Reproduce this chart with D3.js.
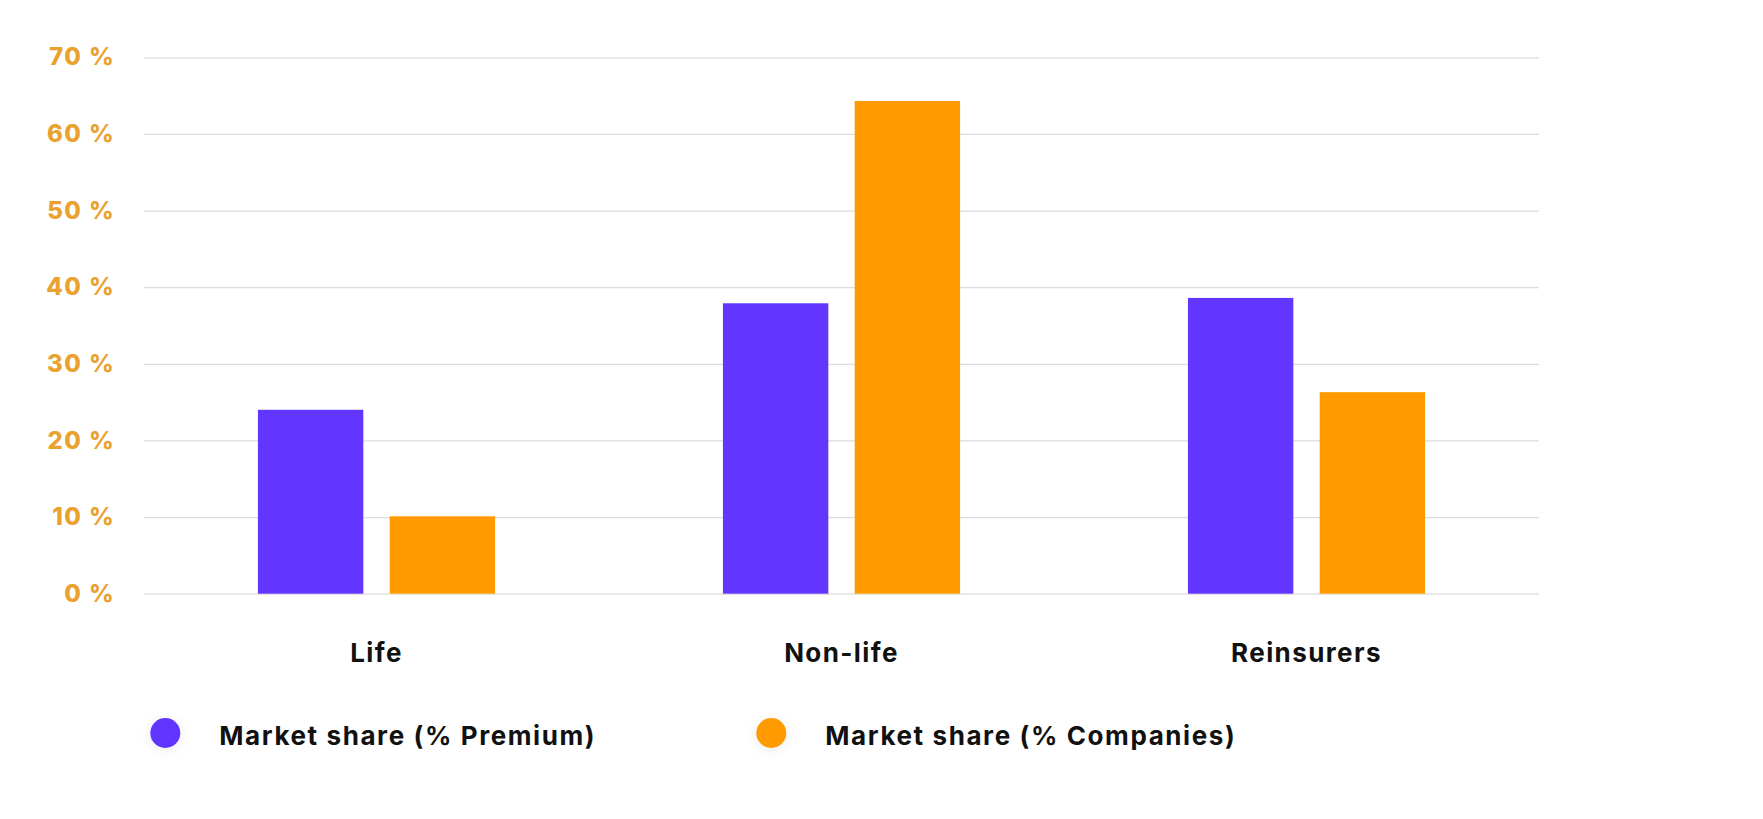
<!DOCTYPE html>
<html>
<head>
<meta charset="utf-8">
<script src="https://cdn.jsdelivr.net/npm/d3@7"></script>
<style>
  html, body { margin: 0; padding: 0; background: #ffffff; }
  svg { display: block; }
</style>
</head>
<body>
<svg id="chart" width="1763" height="819"></svg>
<script>
const categories = ["Life", "Non-life", "Reinsurers"];
const seriesNames = ["Market share (% Premium)", "Market share (% Companies)"];
const premiumValues = [24.0, 37.9, 38.6];
const companiesValues = [10.1, 64.3, 26.3];
const yTicks = [0, 10, 20, 30, 40, 50, 60, 70];
const yTickLabels = ["0 %", "10 %", "20 %", "30 %", "40 %", "50 %", "60 %", "70 %"];
const seriesColors = ["#6236ff", "#ff9b00"];

const svg = d3.select("#chart");
const plotLeft = 144, plotRight = 1539, plotTop = 57.3, plotBottom = 593.7;
const font = "Inter, 'Open Sans', sans-serif";

const x0 = d3.scaleBand().domain(categories).range([plotLeft, plotRight])
  .paddingInner(0.49).paddingOuter(0.245);
const x1 = d3.scaleBand().domain(seriesNames).range([0, x0.bandwidth()])
  .paddingInner(0.2).paddingOuter(0);
const y = d3.scaleLinear().domain([0, 70]).range([plotBottom, plotTop]);

// grid lines + y labels
const yAxis = d3.axisLeft(y).tickValues(yTicks)
  .tickSize(-(plotRight - plotLeft)).tickPadding(29)
  .tickFormat((d, i) => yTickLabels[i]);
const gy = svg.append("g").attr("transform", `translate(${plotLeft},0)`).call(yAxis);
gy.select(".domain").remove();
gy.selectAll(".tick line").attr("stroke", "#dcdcdc").attr("stroke-width", 1.3);
gy.selectAll(".tick text")
  .attr("fill", "#e9a230")
  .style("font-family", font)
  .style("font-weight", 800)
  .style("font-size", "24px")
  .style("letter-spacing", "1.4px");

// bars
const data = categories.map((c, i) => ({ cat: c, vals: [premiumValues[i], companiesValues[i]] }));
const groups = svg.append("g").selectAll("g").data(data).join("g")
  .attr("transform", d => `translate(${x0(d.cat)},0)`);
groups.selectAll("rect")
  .data(d => d.vals.map((v, j) => ({ name: seriesNames[j], v, j })))
  .join("rect")
  .attr("x", d => x1(d.name))
  .attr("width", x1.bandwidth())
  .attr("y", d => y(d.v))
  .attr("height", d => y(0) - y(d.v))
  .attr("fill", d => seriesColors[d.j]);

// x labels
const xAxis = d3.axisBottom(x0).tickSize(0).tickPadding(0);
const gx = svg.append("g").attr("transform", `translate(0,${plotBottom})`).call(xAxis);
gx.select(".domain").remove();
gx.selectAll(".tick text")
  .attr("y", 59)
  .attr("dy", "0.35em")
  .attr("fill", "#111")
  .style("font-family", font)
  .style("font-weight", 700)
  .style("font-size", "26px")
  .style("letter-spacing", "1.4px");

// legend
const defs = svg.append("defs");
const filt = defs.append("filter").attr("id", "sh").attr("x", "-100%").attr("y", "-100%")
  .attr("width", "300%").attr("height", "300%");
filt.append("feDropShadow").attr("dx", 0).attr("dy", 2).attr("stdDeviation", 6)
  .attr("flood-color", "#000").attr("flood-opacity", 0.08);

const legendX = [165.3, 771.3];
const legend = svg.append("g").selectAll("g").data(seriesNames).join("g")
  .attr("transform", (d, i) => `translate(${legendX[i]},733)`);
legend.append("circle").attr("r", 15).attr("fill", (d, i) => seriesColors[i])
  .attr("filter", "url(#sh)");
legend.append("text")
  .attr("x", 54)
  .attr("y", 3)
  .attr("dy", "0.35em")
  .attr("fill", "#111")
  .style("font-family", font)
  .style("font-weight", 700)
  .style("font-size", "26px")
  .style("letter-spacing", "1.6px")
  .text(d => d);
</script>
</body>
</html>
